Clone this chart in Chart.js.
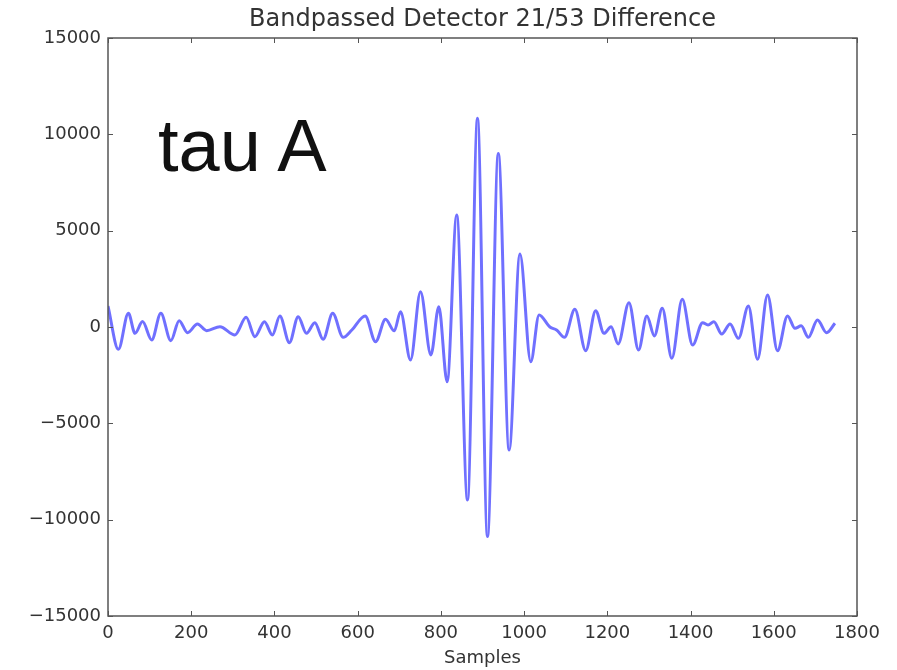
<!DOCTYPE html>
<html>
<head>
<meta charset="utf-8">
<script src="https://cdn.jsdelivr.net/npm/chart.js@4/dist/chart.umd.min.js"></script>
<style>
  html, body { margin: 0; padding: 0; background: #fff; }
  #wrap { position: relative; width: 897px; height: 670px; }
  #label {
    position: absolute; left: 158px; top: 109px;
    font-family: "Liberation Sans", Arial, sans-serif;
    font-size: 74px; line-height: 1; color: #111; white-space: nowrap;
  }
</style>
</head>
<body>
<div id="wrap">
  <canvas id="c" width="897" height="670"></canvas>
  <div id="label">tau A</div>
</div>
<script>
// Sample index and bandpassed difference value at each turning point of the trace
const samples = [
  0, 25, 49, 65, 83, 105, 127, 151, 171, 191,
  215, 237, 269, 305, 332, 353, 376, 395, 413, 436,
  457, 477, 497, 517, 540, 565, 586, 618, 643, 667,
  688, 703, 727, 751, 776, 795, 815, 838, 864, 888,
  912, 938, 964, 990, 1016, 1036, 1062, 1078, 1097, 1122,
  1148, 1172, 1192, 1209, 1226, 1252, 1275, 1295, 1313, 1332,
  1355, 1380, 1405, 1429, 1442, 1456, 1475, 1495, 1515, 1539,
  1561, 1585, 1609, 1633, 1651, 1666, 1683, 1705, 1727, 1747
];
const values = [
  1090, -1160, 710, -330, 280, -675, 710, -710, 330, -295,
  155, -190, 15, -415, 500, -500, 275, -415, 570, -815,
  535, -330, 225, -640, 710, -535, -155, 570, -760, 400,
  -200, 795, -1710, 1830, -1450, 1055, -2840, 5810, -8980, 10830,
  -10880, 9010, -6380, 3790, -1800, 620, 0, -155, -535, 915,
  -1230, 845, -330, 15, -880, 1260, -1195, 570, -465, 970,
  -1625, 1435, -935, 225, 100, 275, -365, 155, -590, 1090,
  -1680, 1660, -1230, 570, -70, 60, -535, 365, -295, 190
];
const xTicks = [0, 200, 400, 600, 800, 1000, 1200, 1400, 1600, 1800];
const yTicks = [-15000, -10000, -5000, 0, 5000, 10000, 15000];

const titleText = 'Bandpassed Detector 21/53 Difference';
const xTitle = 'Samples';

const FONT = '"DejaVu Sans", "Liberation Sans", sans-serif';

// Box frame with short inward tick marks on all four sides, plus a title centred over the plot area
const framePlugin = {
  id: 'frame',
  afterDraw(chart) {
    const { ctx, chartArea: a, scales } = chart;
    const len = 5;
    ctx.save();
    ctx.strokeStyle = '#555';
    ctx.lineWidth = 1.5;
    ctx.strokeRect(a.left, a.top, a.right - a.left, a.bottom - a.top);
    ctx.lineWidth = 1;
    ctx.beginPath();
    xTicks.forEach(v => {
      const px = Math.round(scales.x.getPixelForValue(v)) + 0.5;
      ctx.moveTo(px, a.bottom); ctx.lineTo(px, a.bottom - len);
      ctx.moveTo(px, a.top); ctx.lineTo(px, a.top + len);
    });
    yTicks.forEach(v => {
      const py = Math.round(scales.y.getPixelForValue(v)) + 0.5;
      ctx.moveTo(a.left, py); ctx.lineTo(a.left + len, py);
      ctx.moveTo(a.right, py); ctx.lineTo(a.right - len, py);
    });
    ctx.stroke();

    ctx.fillStyle = '#333';
    ctx.font = '24px ' + FONT;
    ctx.textAlign = 'center';
    ctx.textBaseline = 'middle';
    ctx.fillText(titleText, (a.left + a.right) / 2, a.top - 18);
    ctx.restore();
  }
};

new Chart(document.getElementById('c'), {
  type: 'line',
  data: {
    datasets: [{
      data: samples.map((s, i) => ({ x: s, y: values[i] })),
      borderColor: '#7070ff',
      borderWidth: 3,
      pointRadius: 0,
      fill: false,
      tension: 0.4,
      cubicInterpolationMode: 'monotone'
    }]
  },
  options: {
    responsive: false,
    animation: false,
    layout: { padding: { left: 0, right: 40, top: 38, bottom: 0 } },
    plugins: {
      legend: { display: false },
      tooltip: { enabled: false },
      title: { display: false }
    },
    scales: {
      x: {
        type: 'linear',
        min: 0, max: 1800,
        grid: { display: false, drawTicks: false },
        border: { display: false },
        afterBuildTicks: s => { s.ticks = xTicks.map(v => ({ value: v })); },
        afterFit: s => { s.height = 54; },
        ticks: {
          color: '#333', padding: 7, maxRotation: 0,
          font: { family: FONT, size: 18 },
          callback: v => String(v)
        },
        title: {
          display: true, text: xTitle, color: '#333',
          font: { family: FONT, size: 18 },
          padding: { top: 0, bottom: 1 }
        }
      },
      y: {
        type: 'linear',
        min: -15000, max: 15000,
        grid: { display: false, drawTicks: false },
        border: { display: false },
        afterBuildTicks: s => { s.ticks = yTicks.map(v => ({ value: v })); },
        afterFit: s => { s.width = 108; },
        ticks: {
          color: '#333', padding: 7,
          font: { family: FONT, size: 18 },
          callback: v => String(v).replace('-', '\u2212')
        }
      }
    }
  },
  plugins: [framePlugin]
});
</script>
</body>
</html>
